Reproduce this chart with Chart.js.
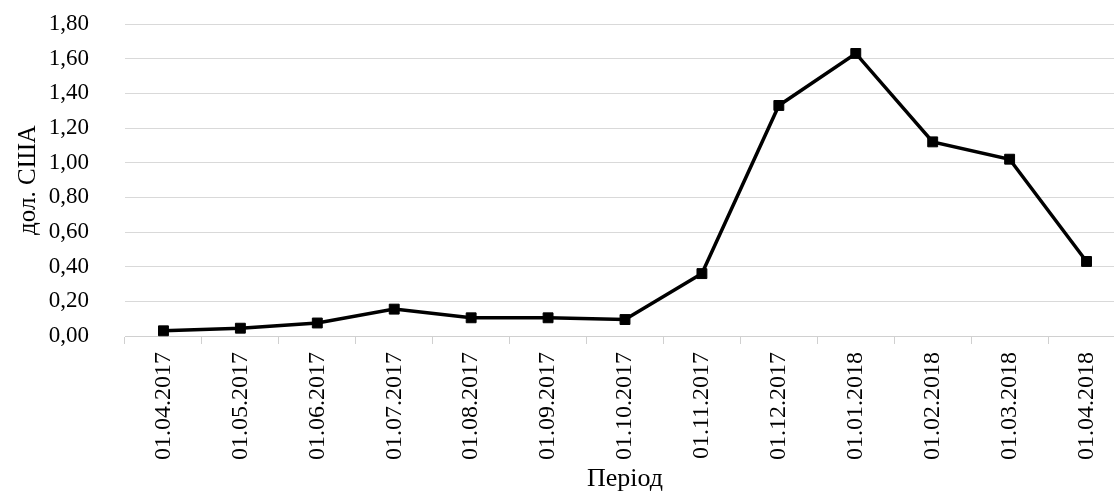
<!DOCTYPE html>
<html>
<head>
<meta charset="utf-8">
<script src="https://cdn.jsdelivr.net/npm/chart.js@4"></script>
<style>
  body { margin: 0; background: #fff; }
  #wrap { width: 1114px; height: 495px; }
</style>
</head>
<body>
<div id="wrap"><canvas id="chart"></canvas></div>
<script>
const periods = ['01.04.2017', '01.05.2017', '01.06.2017', '01.07.2017', '01.08.2017', '01.09.2017', '01.10.2017',
    '01.11.2017', '01.12.2017', '01.01.2018', '01.02.2018', '01.03.2018', '01.04.2018'];
const values = [0.03, 0.045, 0.075, 0.155, 0.105, 0.105, 0.095, 0.36, 1.33, 1.63, 1.12, 1.02, 0.43];
const yTicks = [0, 0.2, 0.4, 0.6, 0.8, 1.0, 1.2, 1.4, 1.6, 1.8];

const serif = '"Liberation Serif", "Times New Roman", serif';

// the original picture is cut off on the right, so let the plot run past the canvas edge
const extendRight = {
    id: 'extendRight',
    afterLayout(chart) {
        const right = chart.width + 11;
        const x = chart.scales.x;
        x.right = right;
        x.width = right - x.left;
        x.configure();
        chart.chartArea.right = right;
        chart.chartArea.width = right - chart.chartArea.left;
    }
};

const ctx = document.getElementById('chart').getContext('2d');
new Chart(ctx, {
    type: 'line',
    data: {
        labels: periods,
        datasets: [{
            data: values,
            borderColor: '#000',
            backgroundColor: '#000',
            borderWidth: 3.5,
            pointStyle: 'rect',
            pointRadius: 7,
            pointHoverRadius: 7,
            pointBorderWidth: 1,
            tension: 0,
            clip: false
        }]
    },
    options: {
        responsive: true,
        maintainAspectRatio: false,
        animation: false,
        layout: { autoPadding: false, padding: { top: 24, right: 0, left: 0, bottom: 0 } },
        plugins: {
            legend: { display: false },
            tooltip: { enabled: false }
        },
        scales: {
            x: {
                offset: true,
                afterFit: (axis) => {
                    // chart.js counts tick padding twice, keep the axis band tight
                    axis.height = 159;
                    axis.paddingLeft = 0;
                    axis.paddingRight = 0;
                },
                grid: {
                    display: true,
                    offset: true,
                    drawOnChartArea: false,
                    drawTicks: true,
                    tickLength: 8,
                    color: '#d0d0d0'
                },
                border: { display: true, color: '#d0d0d0', width: 1 },
                ticks: {
                    color: '#000',
                    font: { family: serif, size: 24 },
                    minRotation: 90,
                    maxRotation: 90,
                    padding: 8,
                    autoSkip: false
                },
                title: {
                    display: true,
                    text: 'Період',
                    color: '#000',
                    font: { family: serif, size: 26 },
                    padding: { top: 4, bottom: 0 }
                }
            },
            y: {
                min: 0,
                max: 1.8,
                afterBuildTicks: (axis) => { axis.ticks = yTicks.map(v => ({ value: v })); },
                afterFit: (axis) => {
                    axis.width = 125;
                    axis.paddingTop = 0;
                    axis.paddingBottom = 0;
                },
                grid: {
                    color: '#d9d9d9',
                    lineWidth: 1,
                    drawTicks: false
                },
                border: { display: false },
                ticks: {
                    color: '#000',
                    font: { family: serif, size: 23 },
                    padding: 36,
                    callback: (v) => Number(v).toFixed(2).replace('.', ',')
                },
                title: {
                    display: true,
                    text: 'дол. США',
                    color: '#000',
                    font: { family: serif, size: 25 },
                    padding: { top: 13, bottom: 0 }
                }
            }
        }
    },
    plugins: [extendRight]
});
</script>
</body>
</html>
